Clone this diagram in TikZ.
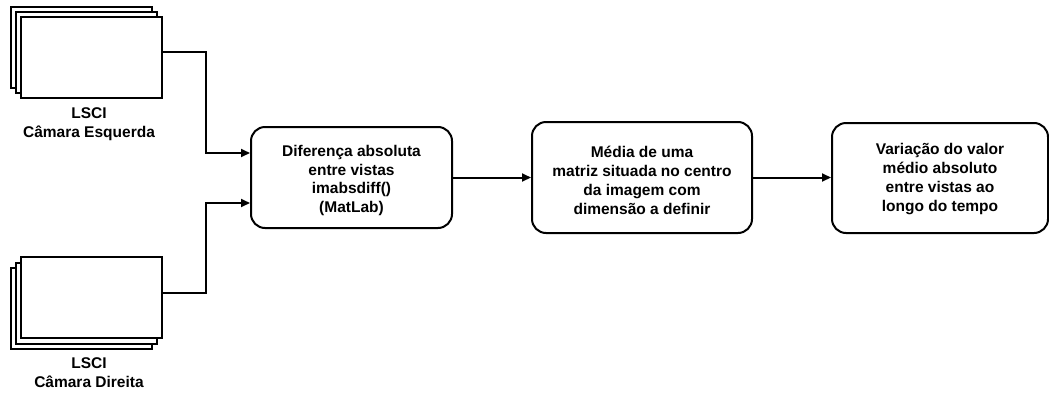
\documentclass[tikz,border=0pt]{standalone}
\usepackage{fontspec}
\setmainfont{Liberation Sans}
\usetikzlibrary{arrows.meta}
\begin{document}
\begin{tikzpicture}[x=1pt,y=-1pt,
  every node/.style={font=\fontsize{15.5}{18.8}\selectfont\bfseries},
  sheet/.style={draw=black,line width=2pt,fill=white,minimum width=140.6pt,minimum height=81pt,inner sep=0pt},
  procbox/.style={draw=black,line width=2pt,rounded corners=14pt,inner sep=0pt},
  lbl/.style={align=center,inner sep=0pt},
  conn/.style={draw=black,line width=2pt,-{Triangle[length=9pt,width=8pt]}}]
\useasboundingbox (0,0) rectangle (1049,399);
% top stack
\node[sheet] (l3) at (81.2,47.8) {};
\node[sheet] (l2) at (86.2,52.8) {};
\node[sheet] (camL) at (91.2,57.8) {};
\node[lbl] (labL) at (89,124.5) {LSCI\\Câmara Esquerda};
% bottom stack
\node[sheet] (r3) at (81.2,308.6) {};
\node[sheet] (r2) at (86.2,303.3) {};
\node[sheet] (camR) at (91.2,297.8) {};
\node[lbl] (labR) at (89,373) {LSCI\\Câmara Direita};
% process boxes
\node[procbox,minimum width=201pt,minimum height=101pt] (diff) at (351.5,177.5) {};
\node[lbl] (diffT) at ([yshift=-3pt]diff.center) {Diferença absoluta\\entre vistas\\imabsdiff()\\(MatLab)};
\node[procbox,minimum width=220pt,minimum height=111pt] (media) at (642,177.5) {};
\node[lbl] (mediaT) at ([yshift=-3pt]media.center) {Média de uma\\matriz situada no centro\\da imagem com\\dimensão a definir};
\node[procbox,minimum width=216pt,minimum height=110pt] (var) at (940,178) {};
\node[lbl] (varT) at ([yshift=-1pt]var.center) {Variação do valor\\médio absoluto\\entre vistas ao\\longo do tempo};
% connectors
\coordinate (oL) at ([yshift=5.5pt]camL.east);
\coordinate (oR) at ([yshift=5pt]camR.east);
\draw[conn] (oL) -| (206,153) -- (diff.west |- 0,153);
\draw[conn] (oR) -| (206,203) -- (diff.west |- 0,203);
\draw[conn] (diff.east) -- (media.west);
\draw[conn] (media.east) -- (var.west |- media.east);
\end{tikzpicture}
\end{document}
